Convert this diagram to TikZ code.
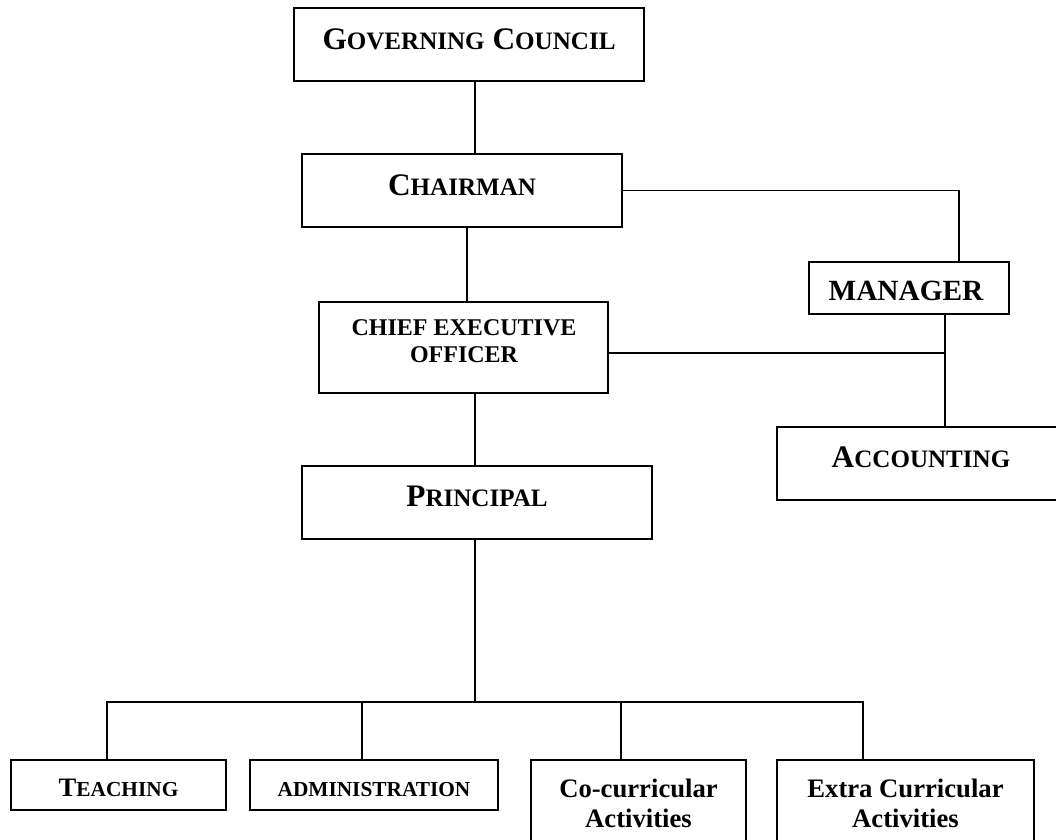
\documentclass[tikz,border=0pt]{standalone}
\usepackage{fontspec}
\setmainfont{Liberation Serif}
\usetikzlibrary{fit}
\newcommand\fsz[1]{\fontsize{#1pt}{#1pt}\selectfont}
\tikzset{
  box/.style={draw=black, line width=1.4pt, inner sep=0pt, fill=white},
  conn/.style={draw=black, line width=1.4pt},
  lbl/.style={anchor=base, inner sep=0pt, font=\bfseries},
}
\begin{document}
\begin{tikzpicture}[x=0.75pt,y=-0.75pt]
\useasboundingbox (0,0) rectangle (1056,839);
\clip (0,0) rectangle (1056,839);
\fill[white] (0,0) rectangle (1056,839);

% boxes
\node[box, fit={(294,8) (644,81)}] (gc) {};
\node[box, fit={(302,154) (622,227)}] (ch) {};
\node[box, fit={(809,262) (1009,314)}] (mg) {};
\node[box, fit={(319,302) (608,393)}] (ceo) {};
\node[box, fit={(777,427) (1065,500)}] (ac) {};
\node[box, fit={(302,466) (652,539)}] (pr) {};
\node[box, fit={(11,760) (226,810)}] (te) {};
\node[box, fit={(250,760) (498,810)}] (ad) {};
\node[box, fit={(531,760) (746,870)}] (co) {};
\node[box, fit={(777,760) (1034,870)}] (ex) {};

% labels
\node[lbl] (gct) at (469,49) {\fsz{23.5}G\fsz{18.8}OVERNING\fsz{23.5} C\fsz{18.8}OUNCIL};
\node[lbl] (cht) at (462,195) {\fsz{23.5}C\fsz{18.8}HAIRMAN};
\node[lbl] (mgt) at (906,300) {\fsz{22}MANAGER};
\node[lbl] (ceot1) at (464,335) {\fsz{18}CHIEF EXECUTIVE};
\node[lbl] (ceot2) at (464,362) {\fsz{18}OFFICER};
\node[lbl] (act) at (921,467) {\fsz{23.5}A\fsz{18.8}CCOUNTING};
\node[lbl] (prt) at (477,506) {\fsz{23.5}P\fsz{18.8}RINCIPAL};
\node[lbl] (tet) at (118.5,796) {\fsz{20}T\fsz{16}EACHING};
\node[lbl] (adt) at (374,796) {\fsz{16}ADMINISTRATION};
\node[lbl] (cot1) at (638.5,797) {\fsz{20}Co-curricular};
\node[lbl] (cot2) at (638.5,827) {\fsz{20}Activities};
\node[lbl] (ext1) at (905.5,797) {\fsz{20}Extra Curricular};
\node[lbl] (ext2) at (905.5,827) {\fsz{20}Activities};

% connector coordinates
\coordinate (c475) at (475,0);
\coordinate (c467) at (467,0);
\coordinate (c959) at (959,0);
\coordinate (c945) at (945,0);
\coordinate (y353) at (0,353);
\coordinate (bus) at (475,702);
\coordinate (c107) at (107,0);
\coordinate (c362) at (362,0);
\coordinate (c621) at (621,0);
\coordinate (c863) at (863,0);

% connectors
\draw[conn] (gc.south -| c475) -- (ch.north -| c475);
\draw[conn] (ch.south -| c467) -- (ceo.north -| c467);
\draw[conn] (ceo.south -| c475) -- (pr.north -| c475);
\draw[conn] (pr.south -| c475) -- (bus);
\draw[conn] (ch.east) -| (mg.north -| c959);
\draw[conn] (ceo.east |- y353) -- (c945 |- y353);
\draw[conn] (mg.south -| c945) -- (ac.north -| c945);
\draw[conn] (te.north -| c107) -- (c107 |- bus) -- (c863 |- bus) -- (ex.north -| c863);
\draw[conn] (ad.north -| c362) -- (c362 |- bus);
\draw[conn] (co.north -| c621) -- (c621 |- bus);
\end{tikzpicture}
\end{document}
